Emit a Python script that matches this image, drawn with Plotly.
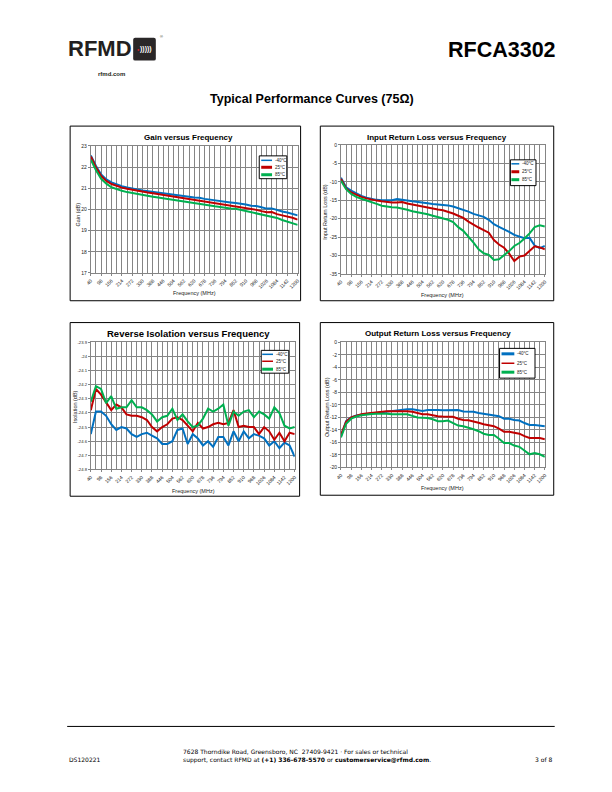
import plotly.graph_objects as go

# ---------------- data ----------------
freq_mhz = [40, 69, 98, 127, 156, 185, 214, 243, 272, 301, 330, 359, 388, 417, 446, 475,
            504, 533, 562, 591, 620, 649, 678, 707, 736, 765, 794, 823, 852, 881, 910,
            939, 968, 997, 1026, 1055, 1084, 1113, 1142, 1171, 1200]
freq_tick_vals = [40, 98, 156, 214, 272, 330, 388, 446, 504, 562, 620, 678, 736, 794,
                  852, 910, 968, 1026, 1084, 1142, 1200]
freq_tick_text = [str(v) for v in freq_tick_vals]

temps = ["-40°C", "25°C", "85°C"]

gain_m40 = [22.55, 22.05, 21.65, 21.42, 21.28, 21.18, 21.1, 21.04, 20.98, 20.94, 20.9, 20.87,
            20.84, 20.8, 20.77, 20.74, 20.7, 20.68, 20.65, 20.6, 20.56, 20.55, 20.5, 20.46,
            20.43, 20.41, 20.37, 20.33, 20.3, 20.28, 20.23, 20.18, 20.16, 20.1, 20.04, 20.05,
            19.97, 19.9, 19.86, 19.8, 19.72]
gain_25 = [22.5, 21.98, 21.58, 21.35, 21.2, 21.1, 21.03, 20.98, 20.93, 20.88, 20.84, 20.8,
           20.77, 20.73, 20.7, 20.66, 20.62, 20.6, 20.56, 20.5, 20.46, 20.44, 20.4, 20.35,
           20.31, 20.28, 20.24, 20.2, 20.17, 20.13, 20.06, 20.02, 19.98, 19.92, 19.87, 19.88,
           19.78, 19.72, 19.68, 19.61, 19.52]
gain_85 = [22.35, 21.85, 21.45, 21.22, 21.05, 20.95, 20.88, 20.82, 20.77, 20.72, 20.68, 20.64,
           20.6, 20.56, 20.52, 20.49, 20.46, 20.43, 20.39, 20.34, 20.3, 20.27, 20.23, 20.19,
           20.15, 20.12, 20.07, 20.05, 20.03, 19.98, 19.92, 19.87, 19.8, 19.75, 19.7, 19.65,
           19.6, 19.5, 19.43, 19.36, 19.27]

irl_m40 = [-8.9, -11.5, -12.4, -13.2, -13.8, -14.3, -14.7, -14.9, -15.0, -15.0, -15.0, -14.7,
           -14.8, -15.1, -15.3, -15.4, -15.5, -15.8, -16.0, -16.1, -16.2, -16.4, -16.7, -17.1,
           -17.6, -18.1, -18.7, -19.1, -19.5, -20.3, -21.5, -22.2, -22.8, -23.6, -24.4, -24.8,
           -25.3, -25.2, -27.3, -28.0, -27.4]
irl_25 = [-9.2, -11.8, -12.9, -13.6, -14.1, -14.5, -14.9, -15.1, -15.3, -15.5, -15.6, -15.6,
          -15.5, -15.9, -16.2, -16.4, -16.6, -17.0, -17.3, -17.5, -17.7, -18.1, -18.6, -19.2,
          -19.8, -20.8, -21.7, -22.4, -23.1, -23.8, -25.8, -27.0, -27.9, -29.5, -31.5, -30.3,
          -30.0, -28.7, -27.5, -27.8, -28.3]
irl_85 = [-9.7, -12.0, -13.3, -14.1, -14.6, -15.0, -15.5, -16.0, -16.5, -16.8, -16.9, -17.0,
          -17.2, -17.6, -18.0, -18.2, -18.4, -18.8, -19.2, -19.5, -19.8, -20.3, -20.9, -22.3,
          -23.3, -24.8, -26.5, -28.3, -29.4, -29.8, -31.2, -31.0, -30.0, -28.8, -27.4, -26.6,
          -25.4, -24.0, -22.3, -21.8, -22.1]

iso_m40 = [-24.55, -24.39, -24.39, -24.42, -24.48, -24.52, -24.50, -24.51, -24.55, -24.57,
           -24.55, -24.54, -24.56, -24.58, -24.62, -24.62, -24.60, -24.52, -24.51, -24.62,
           -24.55, -24.58, -24.63, -24.60, -24.64, -24.57, -24.57, -24.63, -24.53, -24.60,
           -24.53, -24.58, -24.55, -24.56, -24.58, -24.63, -24.60, -24.65, -24.61, -24.63,
           -24.71]
iso_25 = [-24.38, -24.23, -24.27, -24.33, -24.38, -24.34, -24.36, -24.41, -24.42, -24.42,
          -24.43, -24.45, -24.50, -24.53, -24.50, -24.48, -24.44, -24.43, -24.45, -24.49,
          -24.53, -24.47, -24.51, -24.50, -24.48, -24.47, -24.48, -24.47, -24.38, -24.50,
          -24.49, -24.50, -24.50, -24.55, -24.50, -24.53, -24.59, -24.54, -24.60, -24.54,
          -24.55]
iso_85 = [-24.32, -24.21, -24.23, -24.33, -24.28, -24.37, -24.36, -24.36, -24.31, -24.36,
          -24.36, -24.38, -24.41, -24.46, -24.43, -24.42, -24.37, -24.45, -24.41, -24.46,
          -24.50, -24.49, -24.44, -24.37, -24.39, -24.37, -24.34, -24.49, -24.39, -24.42,
          -24.39, -24.38, -24.43, -24.39, -24.41, -24.44, -24.36, -24.40, -24.49, -24.51,
          -24.50]

orl_m40 = [-15.0, -12.6, -12.0, -11.7, -11.55, -11.45, -11.4, -11.35, -11.25, -11.15, -11.05,
           -10.95, -10.8, -10.7, -10.7, -10.85, -10.95, -10.8, -10.75, -10.8, -10.85, -10.8,
           -10.75, -10.8, -11.05, -11.05, -11.1, -11.3, -11.4, -11.5, -11.6, -11.8, -12.2,
           -12.2, -12.4, -12.5, -12.9, -13.2, -13.2, -13.3, -13.4]
orl_25 = [-14.8, -12.7, -12.0, -11.7, -11.5, -11.35, -11.25, -11.15, -11.05, -11.0, -11.0,
          -11.0, -10.95, -11.0, -11.1, -11.35, -11.5, -11.5, -11.7, -11.8, -11.85, -11.85,
          -11.9, -12.2, -12.4, -12.45, -12.6, -12.85, -13.1, -13.3, -13.4, -13.8, -14.3,
          -14.3, -14.5, -14.6, -15.0, -15.3, -15.3, -15.3, -15.5]
orl_85 = [-15.2, -13.0, -12.2, -11.85, -11.65, -11.5, -11.45, -11.4, -11.35, -11.4, -11.5,
          -11.5, -11.45, -11.5, -11.75, -12.0, -12.05, -12.1, -12.3, -12.6, -12.6, -12.5,
          -12.9, -13.3, -13.4, -13.6, -13.9, -14.2, -14.6, -14.8, -14.8, -15.4, -16.1, -16.1,
          -16.5, -16.7, -17.3, -17.9, -17.7, -17.9, -18.3]

gain_ticks = [17, 18, 19, 20, 21, 22, 23]
irl_ticks = [-35, -30, -25, -20, -15, -10, -5, 0]
iso_ticks = [-24.8, -24.7, -24.6, -24.5, -24.4, -24.3, -24.2, -24.1, -24.0, -23.9]
iso_tick_text = ["-24.8", "-24.7", "-24.6", "-24.5", "-24.4", "-24.3", "-24.2", "-24.1", "-24", "-23.9"]
orl_ticks = [-20, -18, -16, -14, -12, -10, -8, -6, -4, -2, 0]

chart_titles = ["Gain versus Frequency", "Input Return Loss versus Frequency",
                "Reverse Isolation versus Frequency", "Output Return Loss versus Frequency"]
y_titles = ["Gain (dB)", "Input Return Loss (dB)", "Isolation (dB)", "Output Return Loss (dB)"]
x_title = "Frequency (MHz)"

# ---------------- styling ----------------
PAGE_W, PAGE_H = 612, 792
BODY = 8                       # default body margin of the html page
W, H = PAGE_W - 2 * BODY, PAGE_H - 2 * BODY
COLORS = ["#0070C0", "#C00000", "#00B050"]
FONT = "Liberation Sans, Arial, sans-serif"
GRID = "#858585"


def fx(x):
    return (x - BODY) / W


def fy(y):
    return 1 - (y - BODY) / H


# plot areas in page pixels: (left, right, top, bottom)
plots = [
    (86, 296, 144, 272),
    (340, 547, 143, 273),
    (86, 293, 342, 470),
    (340, 547, 342, 468),
]
boxes = [
    (65, 299, 124, 300),
    (319, 556, 124, 300),
    (65, 298, 322, 497),
    (319, 556, 322, 496),
]
legend_boxes = [
    (257, 285, 154, 177, [158.5, 165.5, 173], 259, 270),
    (512, 538, 158, 184, [162, 170, 178], 513, 521),
    (259, 287, 350, 373, [354, 361, 369], 260, 271),
    (501, 537, 348, 378, [353.5, 363, 372], 503, 516),
]
legend_widths = [
    [1.5, 3, 3],
    [1.5, 3, 3],
    [1.5, 1.5, 3],
    [3, 1.5, 3],
]
title_pos = [(185, 135), (437, 135), (185, 333), (438, 333)]
title_size = [8, 8, 9.5, 8]
ytitle_pos = [(73, 213), (324, 210), (70, 407), (326, 407)]
xtitle_pos = [(191, 292), (443, 294), (190, 492), (443, 489)]
ytick_size = [5, 5, 4.2, 5]

series_sets = [
    (gain_m40, gain_25, gain_85),
    (irl_m40, irl_25, irl_85),
    (iso_m40, iso_25, iso_85),
    (orl_m40, orl_25, orl_85),
]
y_ranges = [[17, 23], [-35, 0], [-24.8, -23.9], [-20, 0]]
y_tickvals = [gain_ticks, irl_ticks, iso_ticks, orl_ticks]
y_ticktext = [[str(v) for v in gain_ticks], [str(v) for v in irl_ticks], iso_tick_text,
              [str(v) for v in orl_ticks]]

fig = go.Figure()
layout = dict(
    width=W, height=H, autosize=False,
    margin=dict(l=0, r=0, t=0, b=0),
    paper_bgcolor="white", plot_bgcolor="white",
    font=dict(family=FONT, color="#000"),
    showlegend=False,
)

annotations = []
shapes = []


def paper_text(text, x, y, size, family=FONT, color="#222", xanchor="center", angle=0, align="center"):
    return dict(text=text, x=fx(x), y=fy(y), xref="paper", yref="paper", showarrow=False,
                xanchor=xanchor, yanchor="middle", textangle=angle, align=align,
                font=dict(size=size, family=family, color=color))


for i in range(4):
    n = "" if i == 0 else str(i + 1)
    xa, ya = "x" + n, "y" + n
    for j, vals in enumerate(series_sets[i]):
        fig.add_trace(go.Scatter(
            x=freq_mhz, y=vals, mode="lines", name=temps[j],
            line=dict(color=COLORS[j], width=2),
            xaxis=xa, yaxis=ya, showlegend=False,
        ))
    l, r, t, b = plots[i]
    layout["xaxis" + n] = dict(
        domain=[fx(l), fx(r)], anchor=ya, range=[40, 1200],
        tickmode="array", tickvals=freq_tick_vals, ticktext=freq_tick_text,
        tickangle=-45, tickfont=dict(size=5, family=FONT, color="#222"),
        showgrid=True, gridcolor=GRID, gridwidth=1,
        minor=dict(tick0=40, dtick=29, showgrid=True, gridcolor=GRID, gridwidth=1),
        showline=True, linecolor=GRID, mirror=True, zeroline=False,
        ticks="outside", ticklen=2, tickcolor=GRID,
        fixedrange=True,
    )
    layout["yaxis" + n] = dict(
        domain=[fy(b), fy(t)], anchor=xa, range=y_ranges[i],
        tickmode="array", tickvals=y_tickvals[i], ticktext=y_ticktext[i],
        tickfont=dict(size=ytick_size[i], family=FONT, color="#222"),
        showgrid=True, gridcolor=GRID, gridwidth=1,
        showline=True, linecolor=GRID, mirror=True, zeroline=False,
        ticks="outside", ticklen=2, tickcolor=GRID,
        fixedrange=True,
    )
    # axis titles
    yx, yy = ytitle_pos[i]
    annotations.append(paper_text(y_titles[i], yx, yy, 5.5, angle=-90))
    xx, xy = xtitle_pos[i]
    annotations.append(paper_text(x_title, xx, xy, 5.5))
    # legend (inside the plot, upper right)
    x0, x1, y0, y1, rows, lx0, lx1 = legend_boxes[i]
    shapes.append(dict(type="rect", xref="paper", yref="paper",
                       x0=fx(x0), x1=fx(x1), y0=fy(y1), y1=fy(y0),
                       line=dict(color="black", width=1), fillcolor="white", layer="above"))
    for j in range(3):
        shapes.append(dict(type="line", xref="paper", yref="paper",
                           x0=fx(lx0), x1=fx(lx1), y0=fy(rows[j]), y1=fy(rows[j]),
                           line=dict(color=COLORS[j], width=legend_widths[i][j]), layer="above"))
        annotations.append(paper_text(temps[j], lx1 + 0.5, rows[j], 4.5, xanchor="left"))
    bl, br, bt, bb = boxes[i]
    shapes.append(dict(type="rect", xref="paper", yref="paper",
                       x0=fx(bl), x1=fx(br), y0=fy(bb), y1=fy(bt),
                       line=dict(color="black", width=1), fillcolor="rgba(0,0,0,0)",
                       layer="below"))
    tx, ty = title_pos[i]
    annotations.append(paper_text("<b>" + chart_titles[i] + "</b>", tx, ty, title_size[i], color="black"))

# ---------------- header ----------------
annotations += [
    paper_text("<b>RFMD</b>", 61, 46, 22, color="#231f20", xanchor="left"),
    paper_text("<b>)))))</b>", 142, 46.5, 7, color="white"),
    paper_text("●", 134, 46.5, 4, color="#e0202a"),
    paper_text("®", 154, 34, 4, color="#231f20", xanchor="left"),
    paper_text("<b>rfmd.com</b>", 107, 71.5, 6, color="#231f20"),
    paper_text("<b>RFCA3302</b>", 560, 47, 21.5, color="black", xanchor="right"),
    paper_text("<b>Typical Performance Curves (75Ω)</b>", 311, 97, 12.5, color="black"),
]
shapes.append(dict(type="path", xref="paper", yref="paper",
                   path="M {a},{b} L {c},{b} Q {d},{b} {d},{e} L {d},{f} Q {d},{g} {c},{g} L {a},{g} Q {h},{g} {h},{f} L {h},{e} Q {h},{b} {a},{b} Z".format(
                       a=fx(131), b=fy(35), c=fx(150), d=fx(152), e=fy(37), f=fy(56), g=fy(58), h=fx(129)),
                   fillcolor="#2a2728", line=dict(width=0)))

# ---------------- footer ----------------
shapes.append(dict(type="line", xref="paper", yref="paper", x0=fx(62), x1=fx(557),
                   y0=fy(729), y1=fy(729), line=dict(color="black", width=1)))
FOOT = "DejaVu Sans, Verdana, sans-serif"
annotations += [
    paper_text("DS120221", 62, 762, 6, family=FOOT, color="black", xanchor="left"),
    paper_text("7628 Thorndike Road, Greensboro, NC  27409-9421 · For sales or technical<br>"
               "support, contact RFMD at <b>(+1) 336-678-5570</b> or <b>customerservice@rfmd.com</b>.",
               178, 759, 6, family=FOOT, color="black", xanchor="left", align="left"),
    paper_text("3 of 8", 556, 762, 6, family=FOOT, color="black", xanchor="right"),
]

layout["annotations"] = annotations
layout["shapes"] = shapes
fig.update_layout(**layout)

fig.write_html("out.html", config={"displayModeBar": False})
